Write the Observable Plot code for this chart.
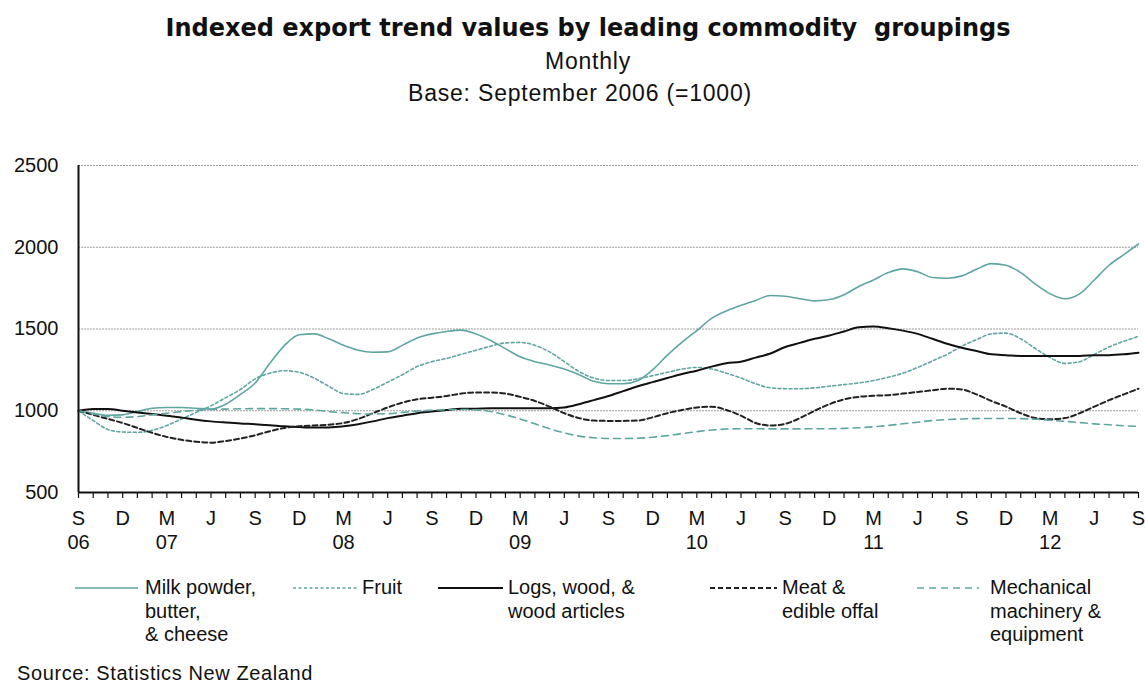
<!DOCTYPE html>
<html>
<head>
<meta charset="utf-8">
<script src="https://cdn.jsdelivr.net/npm/d3@7"></script>
<script src="https://cdn.jsdelivr.net/npm/@observablehq/plot@0.6"></script>
<style>
  body { margin: 0; background: #fff; font-family: "Liberation Sans", Arial, sans-serif; color: #111; }
  #wrap { position: relative; width: 1145px; height: 684px; overflow: hidden; }
  .t { position: absolute; white-space: pre; }
  #chart { position: absolute; left: 0; top: 130px; }
  .leg { position: absolute; top: 576px; font-size: 20px; line-height: 23.5px; white-space: pre; }
  .legsw { position: absolute; top: 580px; }
</style>
</head>
<body>
<div id="wrap">
  <div class="t" style="left:0;width:1176px;text-align:center;top:14px;font-size:24px;font-weight:bold;font-family:'DejaVu Sans',sans-serif;">Indexed export trend values by leading commodity  groupings</div>
  <div class="t" style="left:0;width:1176px;text-align:center;top:48px;font-size:23px;letter-spacing:0.8px;">Monthly</div>
  <div class="t" style="left:0;width:1160px;text-align:center;top:80px;font-size:23px;letter-spacing:0.8px;">Base: September 2006 (=1000)</div>
  <div class="t" style="left:88px;top:129px;font-size:20px;">Index</div>
  <div id="chart"></div>
  <div id="legend"></div>
  <div class="t" style="left:17px;top:662px;font-size:20px;letter-spacing:0.6px;">Source: Statistics New Zealand</div>
</div>
<script>
// Months from Sep 2006 (index 0) to Sep 2012 (index 72)
const months = d3.range(0, 73);

const milk = [1000,985,972,975,995,1015,1020,1020,1015,1010,1040,1100,1170,1290,1400,1465,1470,1440,1400,1370,1358,1360,1400,1445,1470,1485,
  1493,1470,1430,1380,1330,1300,1280,1255,1220,1180,1165,1165,1185,1250,1340,1420,1490,1565,1610,1645,1675,1705,
  1700,1685,1672,1680,1710,1760,1800,1845,1868,1850,1815,1810,1825,1865,1900,1890,1845,1775,1715,1685,1715,1800,1890,1955,2020];

const fruit = [1000,940,885,870,868,880,910,950,990,1030,1080,1130,1195,1230,1245,1235,1200,1150,1105,1100,1130,1175,1220,1270,1300,1320,
  1345,1370,1395,1415,1418,1400,1360,1300,1240,1200,1185,1185,1195,1215,1235,1255,1265,1255,1230,1200,1165,1140,
  1135,1135,1140,1150,1160,1170,1185,1205,1230,1265,1305,1345,1395,1435,1470,1475,1440,1380,1325,1290,1300,1345,1390,1425,1455];

const logs = [1000,1010,1010,1000,990,980,970,958,945,935,928,922,918,912,905,900,897,898,905,918,935,955,970,985,995,1005,
  1012,1013,1015,1015,1015,1015,1015,1020,1040,1065,1090,1120,1150,1175,1200,1225,1245,1270,1290,1300,1325,1350,
  1390,1415,1440,1460,1485,1510,1515,1505,1490,1470,1440,1410,1385,1365,1345,1340,1335,1335,1335,1335,1335,1340,1340,1345,1355];

const meat = [1000,975,950,925,895,865,840,822,810,805,815,830,850,875,895,905,910,915,925,950,985,1020,1050,1070,1080,1090,
  1105,1112,1112,1105,1085,1060,1025,985,955,940,938,938,940,960,985,1005,1020,1025,1005,970,925,910,
  920,955,1000,1040,1070,1085,1092,1095,1105,1115,1125,1135,1130,1100,1060,1025,985,955,948,955,985,1025,1065,1100,1135];

const mech = [1000,980,965,960,965,975,985,995,1003,1008,1010,1012,1013,1013,1012,1010,1005,995,988,982,980,982,990,998,1003,1007,
  1008,1005,995,975,950,920,890,865,845,835,830,830,832,838,848,860,872,882,888,890,890,889,
  889,889,890,890,892,896,902,910,920,930,940,946,950,952,953,953,952,948,942,935,928,920,914,908,904];

const seriesNames = ["Milk powder,\nbutter,\n& cheese", "Fruit", "Logs, wood, &\nwood articles", "Meat &\nedible offal", "Mechanical\nmachinery &\nequipment"];

// Quarterly tick labels (every 3 months from Sep 2006)
const tickLetters = ["S","D","M","J","S","D","M","J","S","D","M","J","S","D","M","J","S","D","M","J","S","D","M","J","S"];
const tickYears   = ["06","","07","","","","08","","","","09","","","","10","","","","11","","","","12","",""];
const yTicks = [500, 1000, 1500, 2000, 2500];

const teal = "#5fa5a1";
const styles = [
  {stroke: teal, strokeWidth: 1.6, dash: null},
  {stroke: teal, strokeWidth: 1.6, dash: "3,2.5"},
  {stroke: "#111", strokeWidth: 2, dash: null},
  {stroke: "#222", strokeWidth: 2, dash: "5,3"},
  {stroke: teal, strokeWidth: 1.6, dash: "7,5"}
];
const allSeries = [milk, fruit, logs, meat, mech];

const quarterTicks = d3.range(0, 73, 3);
const fontSize = 20;

const lineMarks = allSeries.map((s, k) =>
  Plot.line(months, {
    x: d => d, y: d => s[d],
    stroke: styles[k].stroke, strokeWidth: styles[k].strokeWidth,
    strokeDasharray: styles[k].dash, curve: "monotone-x"
  })
);

const chart = Plot.plot({
  width: 1145,
  height: 440,
  marginTop: 35,
  marginBottom: 78,
  marginLeft: 78,
  marginRight: 7,
  style: {fontFamily: "'Liberation Sans', Arial, sans-serif", fontSize: fontSize + "px", color: "#111", background: "white"},
  x: {domain: [0, 72]},
  y: {domain: [500, 2500]},
  marks: [
    Plot.ruleY(yTicks.filter(v => v > 500), {stroke: "#9a9a9a", strokeWidth: 1, strokeDasharray: "2,1"}),
    Plot.axisY({ticks: yTicks, tickSize: 0, tickPadding: 20, label: null, fontSize: fontSize, tickFormat: d => String(d)}),
    Plot.axisX({ticks: months, tickSize: 6, tickFormat: () => "", label: null, stroke: "#111", strokeWidth: 1.2}),
    Plot.axisX({ticks: quarterTicks, tickSize: 0, tickPadding: 18, label: null,
      tickFormat: d => tickLetters[d / 3], fontSize: fontSize}),
    Plot.axisX({ticks: quarterTicks, tickSize: 0, tickPadding: 42, label: null,
      tickFormat: d => tickYears[d / 3], fontSize: fontSize}),
    ...lineMarks,
    Plot.ruleX([0], {y1: 500, y2: 2500, stroke: "#111", strokeWidth: 2}),
    Plot.ruleY([500], {stroke: "#111", strokeWidth: 2})
  ]
});
document.getElementById("chart").appendChild(chart);

// Legend
const legendPos = [
  {x1: 75, x2: 138, tx: 145},
  {x1: 293, x2: 358, tx: 362},
  {x1: 438, x2: 503, tx: 508},
  {x1: 710, x2: 777, tx: 782},
  {x1: 917, x2: 979, tx: 990}
];
const legend = document.getElementById("legend");
legendPos.forEach((p, k) => {
  const st = styles[k];
  const w = p.x2 - p.x1;
  const sw = document.createElement("div");
  sw.className = "legsw";
  sw.style.left = p.x1 + "px";
  sw.innerHTML = `<svg width="${w}" height="16"><line x1="0" x2="${w}" y1="8" y2="8" stroke="${st.stroke}" stroke-width="${st.strokeWidth}" ${st.dash ? `stroke-dasharray="${st.dash}"` : ""}/></svg>`;
  legend.appendChild(sw);
  const tx = document.createElement("div");
  tx.className = "leg";
  tx.style.left = p.tx + "px";
  tx.textContent = seriesNames[k];
  legend.appendChild(tx);
});
</script>
</body>
</html>
